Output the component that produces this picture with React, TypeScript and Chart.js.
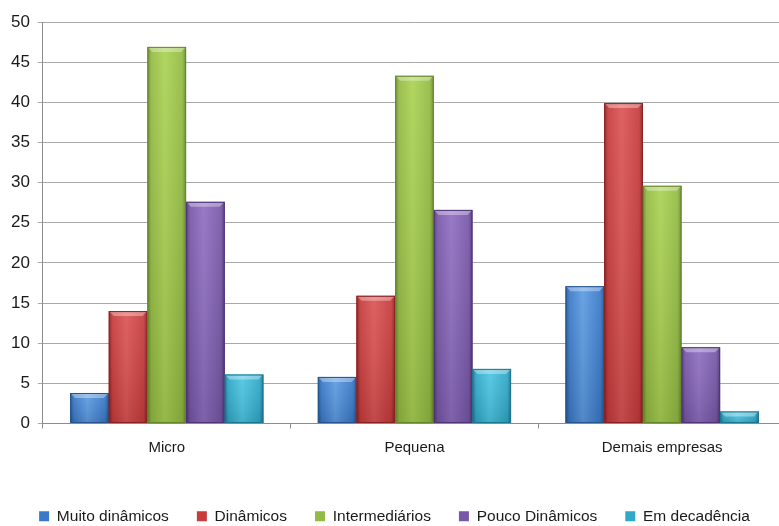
import React, { useEffect, useRef } from "react";
import { Chart, registerables } from "chart.js";

Chart.register(...registerables);

const categories = ["Micro", "Pequena", "Demais empresas"];
const seriesNames = ["Muito dinâmicos", "Dinâmicos", "Intermediários", "Pouco Dinâmicos", "Em decadência"];
const muitoDinamicos = [3.8, 5.8, 17.1];
const dinamicos = [14.0, 15.9, 39.9];
const intermediarios = [46.9, 43.3, 29.6];
const poucoDinamicos = [27.6, 26.6, 9.5];
const emDecadencia = [6.1, 6.8, 1.5];
const yTicks = { min: 0, max: 50, step: 5 };

const baseColors = ["#3A79C9", "#C73B3B", "#93BB43", "#7757A7", "#30A9C9"];
const lightColors = ["#5C9CE2", "#DC5454", "#ABD253", "#8F6EC2", "#4DC6E2"];
const darkColors = ["#25548F", "#8A2222", "#66882A", "#4F3576", "#1C7690"];

const FONT = "'Liberation Sans', Arial, sans-serif";

const bevelPlugin = {
  id: "bevel",
  afterDatasetsDraw(chart: any) {
    const ctx = chart.ctx;
    chart.data.datasets.forEach((ds: any, di: number) => {
      const meta = chart.getDatasetMeta(di);
      if (meta.hidden) return;
      meta.data.forEach((el: any) => {
        const { x, y, base, width } = el.getProps(["x", "y", "base", "width"], true);
        const left = x - width / 2;
        const right = x + width / 2;
        const top = Math.min(y, base);
        const bottom = Math.max(y, base);
        const h = bottom - top;
        if (h <= 0) return;
        const g = ctx.createLinearGradient(left, 0, right, 0);
        g.addColorStop(0, darkColors[di]);
        g.addColorStop(0.1, baseColors[di]);
        g.addColorStop(0.45, lightColors[di]);
        g.addColorStop(0.9, baseColors[di]);
        g.addColorStop(1, darkColors[di]);
        ctx.save();
        ctx.fillStyle = g;
        ctx.fillRect(left, top, width, h);
        const vg = ctx.createLinearGradient(0, top, 0, bottom);
        vg.addColorStop(0, "rgba(255,255,255,0.08)");
        vg.addColorStop(1, "rgba(0,0,0,0.12)");
        ctx.fillStyle = vg;
        ctx.fillRect(left, top, width, h);
        const b = Math.min(5, h / 2);
        ctx.beginPath();
        ctx.moveTo(left, top);
        ctx.lineTo(right, top);
        ctx.lineTo(right - b, top + b);
        ctx.lineTo(left + b, top + b);
        ctx.closePath();
        ctx.fillStyle = "rgba(255,255,255,0.35)";
        ctx.fill();
        ctx.strokeStyle = darkColors[di];
        ctx.lineWidth = 1;
        ctx.strokeRect(left + 0.5, top + 0.5, width - 1, h - 1);
        ctx.restore();
      });
    });
  },
};

export default function App() {
  const ref = useRef<HTMLCanvasElement | null>(null);
  useEffect(() => {
    if (!ref.current) return;
    const allSeries = [muitoDinamicos, dinamicos, intermediarios, poucoDinamicos, emDecadencia];
    const chart = new Chart(ref.current, {
      type: "bar",
      data: {
        labels: categories,
        datasets: allSeries.map((d, i) => ({
          label: seriesNames[i],
          data: d,
          backgroundColor: baseColors[i],
          borderColor: darkColors[i],
          borderWidth: 0,
          barPercentage: 1,
          categoryPercentage: 0.78,
        })),
      },
      options: {
        animation: false,
        responsive: true,
        maintainAspectRatio: false,
        layout: { padding: { left: 3, right: 0, top: 22, bottom: -8 } },
        plugins: {
          tooltip: { enabled: false },
          legend: {
            position: "bottom",
            labels: {
              boxWidth: 10,
              boxHeight: 10,
              padding: 28,
              color: "#1a1a1a",
              font: { family: FONT, size: 15.5 },
            },
          },
        },
        scales: {
          x: {
            offset: true,
            afterFit: (scale: any) => {
              scale.height += 14;
            },
            grid: { display: true, drawOnChartArea: false, drawTicks: true, tickLength: 5, color: "#8C8C8C" },
            border: { color: "#8C8C8C" },
            ticks: {
              color: "#1a1a1a",
              padding: 10,
              font: { family: FONT, size: 15 },
            },
          },
          y: {
            min: yTicks.min,
            max: yTicks.max,
            grid: { color: "#A8A8A8", tickLength: 5 },
            border: { color: "#8C8C8C" },
            ticks: {
              stepSize: yTicks.step,
              padding: 8,
              color: "#1a1a1a",
              font: { family: FONT, size: 17 },
            },
          },
        },
      },
      plugins: [bevelPlugin],
    });
    return () => chart.destroy();
  }, []);
  return (
    <div style={{ position: "fixed", left: 0, top: 0, width: 786, height: 526, background: "#fff", overflow: "hidden" }}>
      <canvas ref={ref} />
    </div>
  );
}
